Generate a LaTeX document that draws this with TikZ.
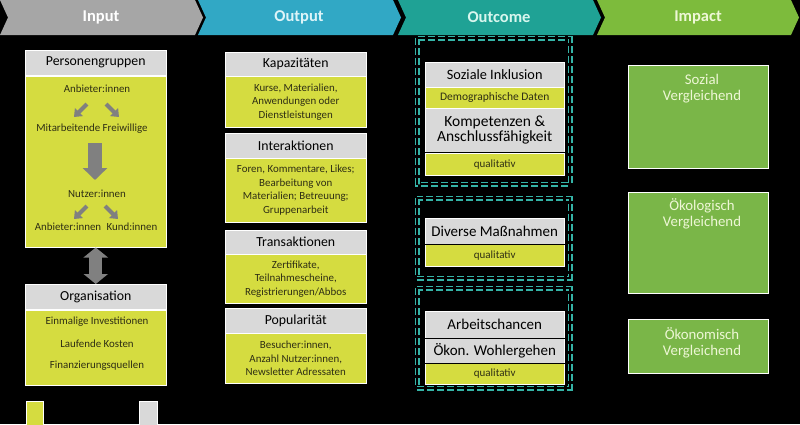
\documentclass[tikz,border=0pt]{standalone}
\usepackage{fontspec}
\setmainfont{Carlito}
\usetikzlibrary{arrows.meta}
\definecolor{cInput}{HTML}{A6A6A6}
\definecolor{cOutput}{HTML}{31A8C5}
\definecolor{cOutcome}{HTML}{1FA295}
\definecolor{cImpact}{HTML}{7DBB3C}
\definecolor{cGrayBox}{HTML}{D9D9D9}
\definecolor{cYellow}{HTML}{D5DC40}
\definecolor{cGreen}{HTML}{7AB648}
\definecolor{cDash}{HTML}{35B4A7}
\definecolor{cArrow}{HTML}{808080}
\definecolor{cText}{HTML}{2E2E14}
\definecolor{cLight}{HTML}{EEF7D6}
\definecolor{cLightBlue}{HTML}{DDF4F8}
\definecolor{cLightTeal}{HTML}{D8F6EE}
\begin{document}
\begin{tikzpicture}[x=1pt,y=-1pt,
  hdrtext/.style={font=\fontsize{16.5}{18}\selectfont\bfseries, inner sep=0},
  graybox/.style={fill=cGrayBox, draw=white, line width=0.5pt, anchor=north west, inner sep=0, font=\fontsize{13.8}{15}\selectfont, text=black, align=center},
  yelbox/.style={fill=cYellow, draw=white, line width=0.5pt, anchor=north west, inner sep=0, font=\fontsize{10.9}{13.5}\selectfont, text=cText, align=center},
  bodytext/.style={font=\fontsize{10.9}{12}\selectfont, text=cText, inner sep=0},
  greenbox/.style={fill=cGreen, draw=white, line width=0.5pt, anchor=north west, inner sep=0},
  greentext/.style={font=\fontsize{14.8}{15.5}\selectfont, text=cLight, align=center, inner sep=0},
  dashbox/.style={draw=cDash, line width=1.9pt, dash pattern=on 7pt off 3pt, double=black, double distance=1.2pt},
  smallarr/.style={draw=cArrow, line width=4pt, -{Triangle[width=11pt,length=7pt]}},
  bigarr/.style={draw=cArrow, line width=14pt, -{Triangle[width=24pt,length=12pt]}},
  dblarr/.style={draw=cArrow, line width=13pt, {Triangle[width=24pt,length=10pt]}-{Triangle[width=24pt,length=10pt]}},
  sep/.style={draw=black, line width=1.2pt}
]
\fill[black] (0,0) rectangle (800,424);
\useasboundingbox (0,0) rectangle (800,424);

% header chevrons
\fill[cInput]   (0,0) -- (195,0) -- (203,17.5) -- (195,35) -- (0,35) -- (8,17.5) -- cycle;
\fill[cOutput]  (198,0) -- (393,0) -- (401,17.5) -- (393,35) -- (198,35) -- (206,17.5) -- cycle;
\fill[cOutcome] (398,0) -- (593,0) -- (601,17.5) -- (593,35) -- (398,35) -- (406,17.5) -- cycle;
\fill[cImpact]  (597,0) -- (791,0) -- (799,17.5) -- (791,35) -- (597,35) -- (605,17.5) -- cycle;
\node[hdrtext, text=white] (hIn) at (101,17.5) {Input};
\node[hdrtext, text=cLightBlue] (hOut) at (299,17.5) {Output};
\node[hdrtext, text=cLightTeal] (hOc) at (499,17.5) {Outcome};
\node[hdrtext, text=cLight] (hIm) at (698,17.5) {Impact};

% ---------- Input ----------
\node[graybox, minimum width=141pt, minimum height=25pt] (pghdr) at (25,50) {Personengruppen};
\node[yelbox, minimum width=141pt, minimum height=171pt] (pgbody) at (25,76) {};
\node[bodytext] (anb1) at (97,89) {Anbieter:innen};
\node[bodytext] (mf) at (92,129) {Mitarbeitende Freiwillige};
\node[bodytext] (nu) at (97,194) {Nutzer:innen};
\node[bodytext] (anb2) at (68,227) {Anbieter:innen};
\node[bodytext] (kund) at (132,227) {Kund:innen};
\coordinate (a1s) at (87,104); \coordinate (a1e) at (74,117);
\coordinate (a2s) at (106,104); \coordinate (a2e) at (119,117);
\coordinate (a3s) at (87,206); \coordinate (a3e) at (74,219);
\coordinate (a4s) at (105,206); \coordinate (a4e) at (118,219);
\draw[smallarr] (a1s) -- (a1e);
\draw[smallarr] (a2s) -- (a2e);
\draw[smallarr] (a3s) -- (a3e);
\draw[smallarr] (a4s) -- (a4e);
\coordinate (ba1) at (95,143); \coordinate (ba2) at (95,180);
\draw[bigarr] (ba1) -- (ba2);

\node[graybox, minimum width=141pt, minimum height=25pt] (orghdr) at (25,284) {Organisation};
\node[yelbox, minimum width=141pt, minimum height=75pt] (orgbody) at (25,310) {};
\draw[dblarr] (pgbody.south) -- (orghdr.north);
\node[bodytext] (o1) at (97,322) {Einmalige Investitionen};
\node[bodytext] (o2) at (97,344) {Laufende Kosten};
\node[bodytext] (o3) at (97,366) {Finanzierungsquellen};

% legend
\node[yelbox, minimum width=17pt, minimum height=24pt] (legY) at (26,401) {};
\node[graybox, minimum width=18pt, minimum height=24pt] (legG) at (139,401) {};

% ---------- Output ----------
\node[graybox, minimum width=141pt, minimum height=24pt] (kaph) at (225,52) {Kapazitäten};
\node[yelbox, minimum width=141pt, minimum height=51pt] (kapb) at (225,76) {Kurse, Materialien,\\Anwendungen oder\\Dienstleistungen};
\node[graybox, minimum width=141pt, minimum height=25pt] (inth) at (225,133) {Interaktionen};
\node[yelbox, minimum width=141pt, minimum height=64pt] (intb) at (225,158) {Foren, Kommentare, Likes;\\Bearbeitung von\\Materialien; Betreuung;\\Gruppenarbeit};
\node[graybox, minimum width=141pt, minimum height=24pt] (trah) at (225,230) {Transaktionen};
\node[yelbox, minimum width=141pt, minimum height=49pt] (trab) at (225,254) {Zertifikate,\\Teilnahmescheine,\\Registrierungen/Abbos};
\node[graybox, minimum width=141pt, minimum height=25pt] (poph) at (225,308) {Popularität};
\node[yelbox, minimum width=141pt, minimum height=50pt] (popb) at (225,333) {Besucher:innen,\\Anzahl Nutzer:innen,\\Newsletter Adressaten};

% ---------- Outcome ----------
\draw[dashbox] (417,38) rectangle (570,184);
\node[graybox, minimum width=139pt, minimum height=25pt, font=\fontsize{14.3}{15}\selectfont] (si) at (425,62) {Soziale Inklusion};
\node[yelbox, minimum width=139pt, minimum height=21pt, font=\fontsize{11.5}{12}\selectfont] (dd) at (425,87) {Demographische Daten};
\node[graybox, minimum width=139pt, minimum height=44pt, font=\fontsize{15.5}{15.5}\selectfont] (komp) at (425,108) {Kompetenzen \&\\Anschlussfähigkeit};
\node[yelbox, minimum width=139pt, minimum height=22pt, font=\fontsize{11}{12}\selectfont] (q1) at (425,153) {qualitativ};
\draw[sep] (komp.south west) -- (komp.south east);

\draw[dashbox] (417,198) rectangle (570,278);
\node[graybox, minimum width=139pt, minimum height=26pt, font=\fontsize{15}{15}\selectfont] (dm) at (425,218) {Diverse Maßnahmen};
\node[yelbox, minimum width=139pt, minimum height=22pt, font=\fontsize{11}{12}\selectfont] (q2) at (425,244) {qualitativ};
\draw[sep] (dm.south west) -- (dm.south east);

\draw[dashbox] (417,288) rectangle (570,388);
\node[graybox, minimum width=139pt, minimum height=27pt, font=\fontsize{15}{15}\selectfont] (ac) at (425,311) {Arbeitschancen};
\node[graybox, minimum width=139pt, minimum height=25pt, font=\fontsize{15}{15}\selectfont] (ow) at (425,338) {Ökon. Wohlergehen};
\node[yelbox, minimum width=139pt, minimum height=21pt, font=\fontsize{11}{12}\selectfont] (q3) at (425,363) {qualitativ};
\draw[sep] (ac.south west) -- (ac.south east);
\draw[sep] (ow.south west) -- (ow.south east);

% ---------- Impact ----------
\node[greenbox, minimum width=140pt, minimum height=103pt] (im1) at (628,65) {};
\node[greentext] (im1t) at (702,88.5) {Sozial\\Vergleichend};
\node[greenbox, minimum width=140pt, minimum height=101pt] (im2) at (628,192) {};
\node[greentext] (im2t) at (702,214) {Ökologisch\\Vergleichend};
\node[greenbox, minimum width=140pt, minimum height=54pt] (im3) at (628,319) {};
\node[greentext] (im3t) at (702,343) {Ökonomisch\\Vergleichend};
\end{tikzpicture}
\end{document}
